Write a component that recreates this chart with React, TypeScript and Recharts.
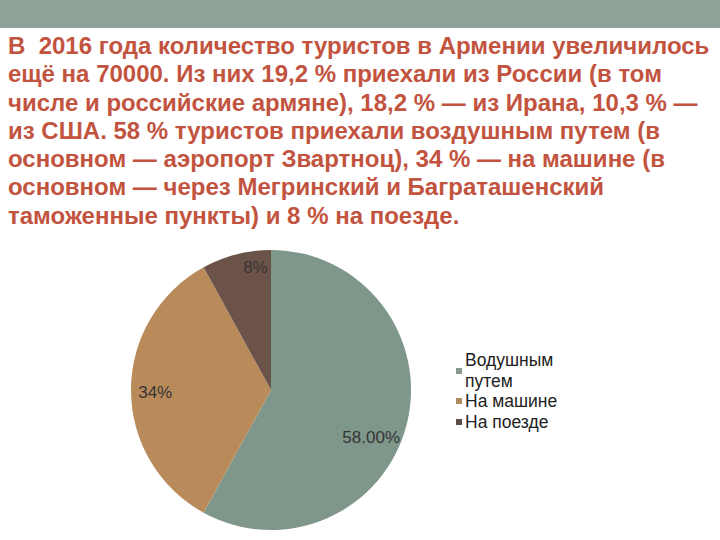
import React from "react";
import { PieChart, Pie, Cell, Legend } from "recharts";

const categories = ["Водушным путем", "На машине", "На поезде"];
const shares = [58, 34, 8];
const labelTexts = ["58.00%", "34%", "8%"];
const sliceColors = ["#7f968b", "#b98b5a", "#6c5349"];
const legendColors = ["#8a9a91", "#b08a60", "#5c4c46"];

const titleLines = [
  "В  2016 года количество туристов в Армении увеличилось",
  "ещё на 70000. Из них 19,2 % приехали из России (в том",
  "числе и российские армяне), 18,2 % — из Ирана, 10,3 % —",
  "из США. 58 % туристов приехали воздушным путем (в",
  "основном — аэропорт Звартноц), 34 % — на машине (в",
  "основном — через Мегринский и Баграташенский",
  "таможенные пункты) и 8 % на поезде.",
];

const data = categories.map((name, i) => ({ name, value: shares[i], label: labelTexts[i] }));

const RAD = Math.PI / 180;
const labelNudge = [
  { dx: -11, dy: 19 },
  { dx: -1, dy: 2 },
  { dx: 13, dy: -11 },
];

const renderLabel = (props: any) => {
  const { cx, cy, midAngle, outerRadius, index } = props;
  const r = outerRadius * 0.82;
  const x = cx + r * Math.cos(-midAngle * RAD) + labelNudge[index].dx;
  const y = cy + r * Math.sin(-midAngle * RAD) + labelNudge[index].dy;
  return (
    <text
      x={x}
      y={y}
      textAnchor="middle"
      dominantBaseline="central"
      fill="#353535"
      fontSize={17}
      fontFamily="'Liberation Sans', Arial, sans-serif"
    >
      {data[index].label}
    </text>
  );
};

const renderLegend = () => (
  <div style={{ fontFamily: "'Liberation Sans', Arial, sans-serif", fontSize: 17.5, color: "#222", lineHeight: "20.5px" }}>
    {categories.map((c, i) => (
      <div key={c} style={{ display: "flex", alignItems: "center" }}>
        <span style={{ width: 6, height: 6, background: legendColors[i], marginRight: 3, flexShrink: 0 }} />
        <span style={{ width: i === 0 ? 100 : 140 }}>{i === 0 ? <>Водушным<br />путем</> : c}</span>
      </div>
    ))}
  </div>
);

export default function App() {
  return (
    <div style={{ position: "absolute", left: 0, top: 0, width: 720, height: 540, background: "#fff", overflow: "hidden" }}>
      <div style={{ position: "absolute", left: 0, top: 0, width: 720, height: 28, background: "#8fa398" }} />
      <div
        style={{
          position: "absolute",
          left: 8,
          top: 32,
          fontFamily: "'Liberation Sans', Arial, sans-serif",
          fontWeight: "bold",
          fontSize: 24,
          lineHeight: "28.3px",
          color: "#c2543f",
          whiteSpace: "pre",
        }}
      >
        {titleLines.map((l) => (
          <div key={l}>{l}</div>
        ))}
      </div>
      <div style={{ position: "absolute", left: 0, top: 0 }}>
        <PieChart width={720} height={540} margin={{ top: 0, right: 0, bottom: 0, left: 0 }}>
          <Pie
            data={data}
            dataKey="value"
            nameKey="name"
            cx={271}
            cy={390}
            outerRadius={140}
            startAngle={90}
            endAngle={-270}
            stroke="none"
            label={renderLabel}
            labelLine={false}
            isAnimationActive={false}
          >
            {data.map((d, i) => (
              <Cell key={d.name} fill={sliceColors[i]} />
            ))}
          </Pie>
          <Legend
            content={renderLegend}
            layout="vertical"
            verticalAlign="middle"
            align="right"
            wrapperStyle={{ position: "absolute", left: 456, top: 350, width: 180 }}
          />
        </PieChart>
      </div>
    </div>
  );
}
